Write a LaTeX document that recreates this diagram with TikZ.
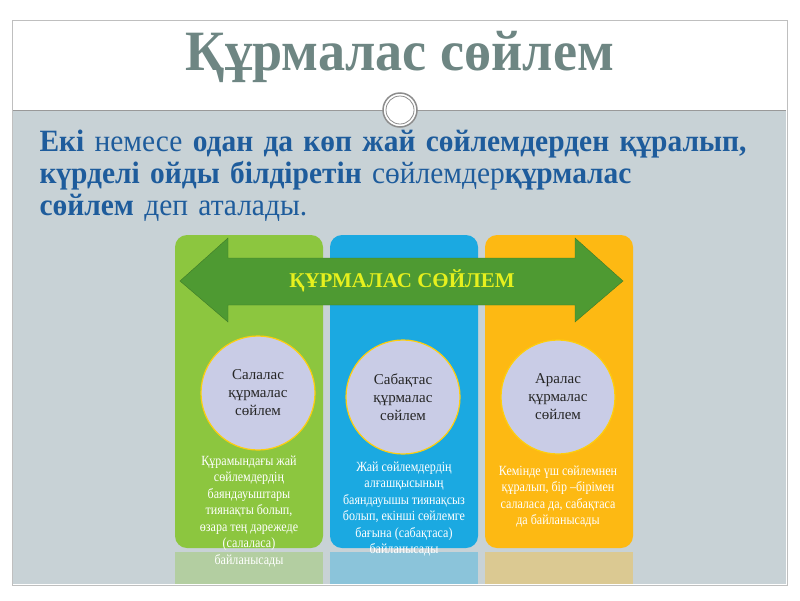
\documentclass[tikz,border=0pt]{standalone}
\usepackage{fontspec}
\setmainfont{Liberation Serif}
\newfontfamily\narrowf[FakeStretch=0.86]{Liberation Serif}
\newfontfamily\titlef[FakeStretch=0.95]{Liberation Serif}
\newfontfamily\bodyf[FakeStretch=0.95]{Liberation Serif}
\definecolor{titlec}{HTML}{6E8683}
\definecolor{bodyc}{HTML}{1E5C9C}
\definecolor{grayb}{HTML}{C8D2D6}
\definecolor{gpan}{HTML}{8CC63F}
\definecolor{bpan}{HTML}{1BA9E1}
\definecolor{opan}{HTML}{FDB913}
\definecolor{arrc}{HTML}{4E9A32}
\definecolor{circc}{HTML}{C9CCE6}
\definecolor{ytext}{HTML}{E6F01E}
\tikzset{
panel/.style={rounded corners=12pt},
bubble/.style={circle,fill=circc,draw=opan!70!yellow,line width=1.2pt,minimum size=114pt,align=center,font=\fontsize{15}{18}\selectfont,text=black!85},
desc/.style={align=center,text=white,font=\narrowf\fontsize{14}{16.5}\selectfont,anchor=north}
}
\begin{document}
\begin{tikzpicture}[x=1pt,y=-1pt]
\useasboundingbox (0,0) rectangle (800,600);
\fill[white] (0,0) rectangle (800,600);
\draw[black!25,fill=white] (12,20) rectangle (787,585);
\fill[grayb] (13,110) rectangle (786,584);
\draw[black!40,line width=0.8pt] (13,110) -- (786,110);
\node[font=\titlef\fontsize{57}{60}\selectfont\bfseries,text=titlec] (title) at (400,57) {Құрмалас сөйлем};
\node[circle,fill=white,draw=black!45,line width=1.5pt,minimum size=34pt] (ring) at (400,110) {};
\node[circle,draw=black!45,line width=0.8pt,minimum size=28pt] (ring2) at (400,110) {};
\node[anchor=north west,align=left,text=bodyc,font=\bodyf\fontsize{31}{32}\selectfont,text width=780pt] (body) at (36,126)
{\textbf{Екі} немесе \textbf{одан да көп жай сөйлемдерден құралып,}\\
\textbf{күрделі ойды білдіретін} сөйлемдер\textbf{құрмалас}\\
\textbf{сөйлем} деп аталады.};
% panels
\fill[gpan,panel] (175,235) rectangle (323,548);
\fill[bpan,panel] (330,235) rectangle (478,548);
\fill[opan,panel] (485,235) rectangle (633,548);
% reflection
\fill[gpan!35!grayb] (175,552) rectangle (323,584);
\fill[bpan!35!grayb] (330,552) rectangle (478,584);
\fill[opan!35!grayb] (485,552) rectangle (633,584);
% arrow
\fill[arrc,draw=arrc!80!black] (180,281) -- (228,238) -- (228,258) -- (575,258) -- (575,238) -- (623,281) -- (575,322) -- (575,305) -- (228,305) -- (228,322) -- cycle;
\node[font=\fontsize{21}{23}\selectfont\bfseries,text=ytext] (atext) at (402,281) {ҚҰРМАЛАС СӨЙЛЕМ};
\node[bubble] (c1) at (258,393) {Салалас\\құрмалас\\сөйлем};
\node[bubble] (c2) at (403,397) {Сабақтас\\құрмалас\\сөйлем};
\node[bubble] (c3) at (558,397) {Аралас\\құрмалас\\сөйлем};
\node[desc] (d1) at (249,452) {Құрамындағы жай\\сөйлемдердің\\баяндауыштары\\тиянақты болып,\\өзара тең дәрежеде\\(салаласа)\\байланысады};
\node[desc] (d2) at (404,458) {Жай сөйлемдердің\\алғашқысының\\баяндауышы тиянақсыз\\болып, екінші сөйлемге\\бағына (сабақтаса)\\байланысады};
\node[desc] (d3) at (558,462) {Кемінде үш сөйлемнен\\құралып, бір –бірімен\\салаласа да, сабақтаса\\да байланысады};
\end{tikzpicture}
\end{document}
